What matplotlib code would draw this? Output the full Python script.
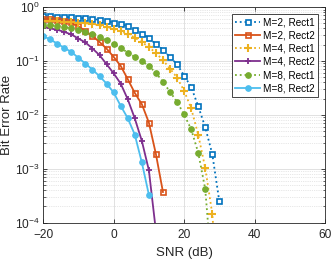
import matplotlib
matplotlib.use("Agg")
import matplotlib.pyplot as plt
import numpy as np

plt.rcParams['font.family'] = ['Liberation Sans', 'DejaVu Sans']
plt.rcParams['mathtext.fontset'] = 'custom'
plt.rcParams['mathtext.rm'] = 'Liberation Sans'

# SNR grids (dB)
snr_m2r1 = list(range(-20, 31, 2))
snr_m2r2 = list(range(-20, 15, 2))
snr_m4r1 = list(range(-20, 31, 2))
snr_m4r2 = list(range(-20, 13, 2))
snr_m8r1 = list(range(-20, 29, 2))
snr_m8r2 = list(range(-20, 11, 2))

# bit error rates
ber_m2r1 = [0.68, 0.67, 0.66, 0.65, 0.64, 0.63, 0.62, 0.60, 0.58, 0.55, 0.51, 0.48, 0.445,
            0.38, 0.32, 0.267, 0.204, 0.162, 0.117, 0.0867, 0.0535, 0.033, 0.0145, 0.0059,
            0.00187, 0.000248]
ber_m2r2 = [0.61, 0.59, 0.574, 0.55, 0.52, 0.44, 0.36, 0.29, 0.225, 0.169, 0.119, 0.081,
            0.046, 0.0255, 0.0158, 0.0072, 0.00187, 0.00037]
ber_m4r1 = [0.55, 0.55, 0.54, 0.535, 0.53, 0.51, 0.50, 0.48, 0.46, 0.426, 0.39, 0.354,
            0.316, 0.27, 0.225, 0.18, 0.141, 0.103, 0.072, 0.049, 0.028, 0.0133, 0.0043,
            0.00103, 0.000145, 3e-6]
ber_m4r2 = [0.44, 0.40, 0.38, 0.345, 0.31, 0.26, 0.22, 0.17, 0.128, 0.087, 0.059, 0.038,
            0.0195, 0.0086, 0.0033, 0.00094, 7e-5]
ber_m8r1 = [0.47, 0.46, 0.445, 0.426, 0.40, 0.38, 0.345, 0.32, 0.28, 0.24, 0.21, 0.174,
            0.143, 0.119, 0.099, 0.081, 0.06, 0.041, 0.0267, 0.0174, 0.0102, 0.0054, 0.002,
            0.00042, 1e-5]
ber_m8r2 = [0.29, 0.25, 0.21, 0.174, 0.147, 0.114, 0.089, 0.069, 0.052, 0.038, 0.026,
            0.0147, 0.0087, 0.0043, 0.00131, 0.00033]

labels = ['M=2, Rect1', 'M=2, Rect2', 'M=4, Rect1', 'M=4, Rect2', 'M=8, Rect1', 'M=8, Rect2']

c_blue = '#0072BD'
c_orange = '#D95319'
c_yellow = '#EDB120'
c_purple = '#7E2F8E'
c_green = '#77AC30'
c_cyan = '#4DBEEE'

fig = plt.figure(figsize=(3.32, 2.61), dpi=100)
ax = fig.add_axes([0.130, 0.147, 0.849, 0.826])

lw = 1.3
ax.plot(snr_m2r1, ber_m2r1, ':', color=c_blue, lw=lw, marker='s', ms=3.6, mfc='white',
        mew=1.2, label=labels[0])
ax.plot(snr_m2r2, ber_m2r2, '-', color=c_orange, lw=lw, marker='s', ms=3.6, mfc='none',
        mew=1.2, label=labels[1])
ax.plot(snr_m4r1, ber_m4r1, ':', color=c_yellow, lw=lw, marker='+', ms=6, mew=1.5,
        label=labels[2])
ax.plot(snr_m4r2, ber_m4r2, '-', color=c_purple, lw=lw, marker='+', ms=5, mew=1.3,
        label=labels[3])
ax.plot(snr_m8r1, ber_m8r1, ':', color=c_green, lw=lw, marker='o', ms=4, mfc=c_green,
        mew=0.8, label=labels[4])
ax.plot(snr_m8r2, ber_m8r2, '-', color=c_cyan, lw=lw, marker='o', ms=4, mfc=c_cyan,
        mew=0.8, label=labels[5])

ax.set_yscale('log')
ax.set_xlim(-20, 60)
ax.set_ylim(1e-4, 1)
ax.set_xticks([-20, 0, 20, 40, 60])
ax.set_yticks([1e-4, 1e-3, 1e-2, 1e-1, 1])

ax.grid(True, which='major', color='#dcdcdc', lw=0.6, ls='-')
ax.grid(True, which='minor', axis='y', color='#d0d0d0', lw=0.5, ls=':')
ax.set_axisbelow(True)

ax.tick_params(which='both', direction='in', top=True, right=True, labelsize=8.6,
               colors='#262626', labelcolor='#262626')
ax.tick_params(which='major', length=3, width=0.6, pad=2.5)
ax.tick_params(axis='x', which='major', pad=4.5)
ax.tick_params(which='minor', length=1.8, width=0.5)
for s in ax.spines.values():
    s.set_color('#262626')
    s.set_linewidth(0.6)

ax.set_xlabel('SNR (dB)', fontsize=9.5, color='#262626')
ax.set_ylabel('Bit Error Rate', fontsize=9.5, color='#262626')
ax.xaxis.set_label_coords(0.5, -0.115)
ax.yaxis.set_label_coords(-0.128, 0.5)
ax.yaxis.label.set_va('center')

leg = ax.legend(loc='upper right', fontsize=7.2, handlelength=2.5, handletextpad=0.3,
                labelspacing=0.33, borderpad=0.3, borderaxespad=0.7, fancybox=False,
                framealpha=1, edgecolor='#262626')
leg.get_frame().set_linewidth(0.6)

fig.savefig('out.png', dpi=100)
